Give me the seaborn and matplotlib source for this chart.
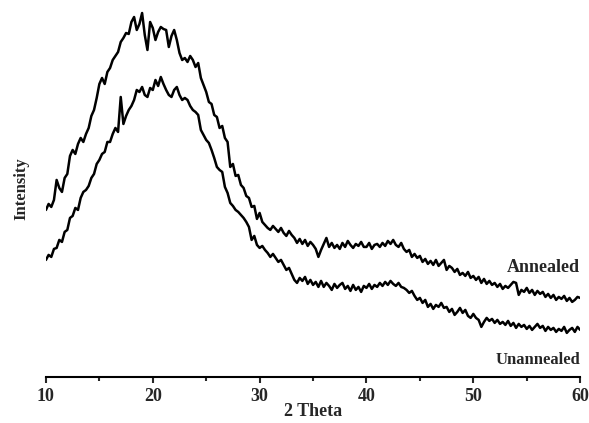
import numpy as np
import pandas as pd
import matplotlib
matplotlib.use("Agg")
import matplotlib.pyplot as plt
from matplotlib.ticker import MultipleLocator
import seaborn as sns

sns.set_style("white")
plt.rcParams['font.family'] = ['Liberation Serif', 'DejaVu Serif']
plt.rcParams['font.weight'] = 'bold'

# 2 theta grid, 0.25 deg step
two_theta = np.linspace(10, 60, 201)

# intensities (a.u.)
annealed = [
    190, 196, 193, 200, 220, 212, 208, 222, 226, 244, 250, 246,
    256, 262, 258, 266, 272, 284, 290, 302, 316, 322, 316, 328,
    332, 340, 344, 348, 358, 362, 367, 366, 378, 383, 370, 376,
    387, 365, 350, 378, 372, 360, 368, 373, 371, 370, 353, 364,
    370, 360, 347, 340, 342, 338, 344, 340, 333, 337, 322, 315,
    308, 298, 296, 285, 283, 272, 274, 262, 258, 233, 236, 224,
    225, 215, 212, 204, 202, 193, 194, 181, 187, 178, 175, 172,
    170, 174, 171, 168, 172, 167, 164, 169, 165, 162, 157, 161,
    156, 160, 154, 158, 155, 151, 143, 150, 156, 162, 153, 157,
    152, 155, 151, 157, 153, 159, 155, 152, 156, 154, 158, 153,
    153, 157, 151, 155, 156, 153, 157, 154, 159, 156, 160, 155,
    153, 157, 151, 148, 150, 143, 146, 142, 144, 138, 141, 136,
    139, 135, 140, 134, 137, 140, 130, 134, 132, 128, 131, 125,
    127, 124, 128, 122, 124, 120, 123, 117, 121, 116, 119, 115,
    117, 113, 116, 111, 114, 112, 115, 118, 117, 105, 110, 108,
    112, 107, 110, 105, 109, 106, 108, 103, 106, 102, 105, 100,
    103, 101, 104, 99, 102, 98, 100, 103, 102,
]
unannealed = [
    140, 145, 143, 151, 152, 160, 158, 168, 170, 182, 184, 192,
    190, 202, 208, 210, 214, 222, 226, 236, 240, 246, 248, 258,
    258, 266, 272, 268, 303, 276, 284, 290, 294, 300, 310, 308,
    313, 305, 303, 312, 310, 320, 314, 323, 316, 310, 305, 303,
    310, 313, 305, 300, 302, 300, 294, 290, 288, 285, 270, 265,
    260, 257, 250, 242, 233, 230, 228, 213, 207, 197, 194, 190,
    188, 185, 182, 178, 173, 160, 164, 155, 152, 154, 150, 147,
    143, 146, 142, 138, 140, 135, 130, 132, 126, 120, 117, 122,
    119, 123, 116, 120, 115, 118, 113, 119, 113, 117, 114, 110,
    116, 112, 115, 117, 111, 114, 109, 115, 110, 113, 108, 114,
    112, 116, 111, 115, 113, 117, 114, 118, 115, 119, 116, 114,
    117, 113, 112, 110, 107, 109, 104, 100, 102, 97, 100, 93,
    96, 91, 95, 93, 97, 92, 93, 88, 91, 85, 88, 92,
    87, 90, 84, 82, 86, 82, 80, 73, 78, 82, 79, 81,
    77, 80, 76, 78, 75, 79, 74, 77, 72, 76, 73, 75,
    71, 74, 70, 73, 76, 72, 74, 69, 73, 70, 72, 68,
    71, 69, 73, 67, 70, 72, 68, 73, 70,
]
series_names = ["Annealed", "Unannealed"]

df = pd.DataFrame({
    "2 Theta": np.concatenate([two_theta, two_theta]),
    "Intensity": annealed + unannealed,
    "sample": [series_names[0]] * len(two_theta) + [series_names[1]] * len(two_theta),
})

fig = plt.figure(figsize=(5.89, 4.23), dpi=100)
ax = fig.add_axes([0.078, 0.109, 0.907, 0.891])

sns.lineplot(data=df, x="2 Theta", y="Intensity", hue="sample",
             palette=["black", "black"], linewidth=1.8, legend=False, ax=ax)

ax.set_xlim(10, 60)
ax.set_ylim(23, 400)
ax.xaxis.set_major_locator(MultipleLocator(10))
ax.xaxis.set_minor_locator(MultipleLocator(5))
ax.tick_params(axis="x", which="major", direction="out", length=4.3, width=1.5,
               labelsize=13, pad=4, bottom=True)
ax.tick_params(axis="x", which="minor", direction="out", length=3, width=1.5, bottom=True)
ax.set_yticks([])
for s in ["top", "right", "left"]:
    ax.spines[s].set_visible(False)
ax.spines["bottom"].set_linewidth(1.5)
ax.spines["bottom"].set_color("black")

ax.set_xlabel("2 Theta", fontsize=13, fontweight="bold", labelpad=-2)
ax.set_ylabel("Intensity", fontsize=12, fontweight="bold", labelpad=12)

ax.text(60, 132, "Annealed", ha="right", va="center", fontsize=13, fontweight="bold")
ax.text(60, 40, "Unannealed", ha="right", va="center", fontsize=12, fontweight="bold")

fig.savefig("out.png", dpi=100)
